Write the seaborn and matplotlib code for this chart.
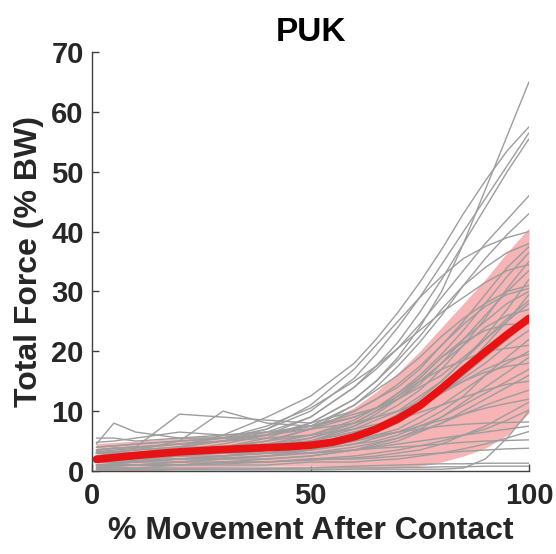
import matplotlib
matplotlib.use('Agg')
import pandas as pd
import matplotlib.pyplot as plt
import seaborn as sns

pct_grid = [1, 5, 10, 20, 30, 40, 50, 60, 65, 70, 75, 80, 85, 90, 95, 100]

# individual trials (total force, % BW), grouped by how high they end
high_trials = [
    [3.5, 3.8, 4.0, 4.5, 5.0, 6.0, 8.0, 12.0, 15.0, 19.0, 24.0, 30.0, 38.0, 47.0, 56.0, 65.0],
    [2.5, 2.8, 3.0, 4.0, 6.0, 9.0, 12.5, 18.0, 22.0, 26.5, 31.5, 37.0, 43.0, 48.5, 53.5, 57.5],
    [4.0, 4.2, 4.5, 5.0, 5.5, 7.0, 10.0, 15.5, 19.5, 24.0, 29.0, 34.5, 40.0, 45.5, 51.0, 56.5],
    [3.0, 3.2, 3.5, 4.0, 5.0, 6.5, 9.0, 14.0, 17.5, 21.5, 26.5, 32.0, 38.0, 44.0, 50.0, 55.5],
    [2.0, 2.5, 3.0, 3.5, 4.5, 6.0, 9.0, 14.0, 17.0, 20.5, 24.5, 29.0, 33.5, 38.0, 42.0, 46.0],
    [3.0, 3.0, 3.0, 3.5, 4.0, 5.0, 7.0, 11.0, 14.0, 17.5, 21.5, 26.0, 31.0, 35.5, 39.5, 43.0],
    [2.5, 2.8, 3.0, 4.0, 5.0, 7.0, 11.0, 17.0, 21.0, 25.0, 29.0, 32.5, 35.5, 37.5, 39.0, 40.0],
    [1.5, 1.8, 2.0, 3.0, 4.0, 5.5, 8.0, 12.0, 15.0, 18.5, 22.5, 27.0, 31.0, 34.0, 36.5, 38.0],
]
mid_trials = [
    [2.0, 2.2, 2.5, 3.0, 3.5, 4.5, 6.0, 8.5, 10.5, 13.0, 16.0, 19.5, 23.5, 28.0, 32.5, 36.5],
    [3.0, 3.2, 3.5, 4.0, 4.0, 4.5, 5.5, 7.5, 9.0, 11.0, 13.5, 17.0, 21.0, 25.5, 30.5, 35.0],
    [1.0, 1.2, 1.5, 2.0, 2.5, 3.5, 5.0, 7.5, 9.5, 12.0, 15.0, 18.0, 22.0, 26.0, 30.0, 33.5],
    [2.5, 2.8, 3.0, 3.0, 3.5, 4.0, 5.0, 7.0, 8.5, 10.0, 12.5, 15.0, 18.5, 22.5, 27.0, 32.0],
    [4.5, 8.0, 6.5, 5.5, 5.5, 6.0, 7.5, 11.0, 13.5, 16.0, 19.0, 22.5, 25.5, 28.0, 30.0, 31.0],
    [2.0, 2.0, 2.0, 2.5, 3.0, 3.5, 4.5, 6.0, 7.5, 9.0, 11.5, 14.0, 17.0, 21.0, 25.0, 29.5],
    [3.5, 3.8, 4.0, 9.5, 9.0, 8.5, 8.0, 10.0, 12.0, 14.0, 17.0, 21.0, 24.5, 27.5, 29.5, 30.5],
    [1.5, 1.8, 2.0, 2.0, 2.5, 3.0, 4.0, 6.0, 7.5, 9.5, 12.0, 15.0, 18.5, 22.0, 25.0, 28.0],
    [2.5, 2.8, 3.0, 3.5, 4.0, 5.0, 6.0, 8.0, 10.0, 12.0, 14.5, 18.0, 21.0, 24.0, 26.0, 27.0],
    [1.0, 1.0, 1.0, 1.5, 2.0, 2.5, 3.5, 5.0, 6.5, 8.0, 10.5, 13.0, 16.0, 19.0, 22.0, 25.0],
    [3.0, 3.2, 3.5, 5.0, 10.0, 8.0, 7.5, 9.0, 10.5, 13.0, 15.5, 19.0, 21.5, 23.5, 24.5, 24.5],
    [2.0, 2.2, 2.5, 3.0, 3.5, 4.0, 5.0, 6.5, 7.5, 9.0, 11.0, 13.0, 15.5, 18.0, 21.0, 23.5],
    [1.5, 1.5, 1.5, 2.0, 2.5, 3.0, 3.5, 4.5, 5.5, 6.5, 8.0, 10.0, 12.5, 16.0, 19.0, 22.0],
    [4.0, 4.2, 4.5, 5.0, 5.5, 6.0, 7.0, 9.0, 10.5, 12.5, 15.0, 17.0, 18.5, 20.0, 20.5, 21.0],
    [2.5, 2.5, 2.5, 3.0, 3.0, 3.5, 4.0, 5.0, 6.0, 7.0, 9.0, 11.0, 13.5, 16.0, 18.0, 20.0],
    [5.5, 5.5, 5.0, 5.5, 6.0, 6.5, 7.0, 8.0, 9.0, 10.0, 11.5, 13.0, 15.0, 17.0, 18.5, 19.5],
    [4.8, 5.0, 5.5, 6.5, 6.0, 6.5, 7.5, 9.5, 10.5, 12.0, 14.0, 16.0, 19.0, 22.0, 25.5, 28.5],
    [2.2, 2.5, 2.8, 3.2, 3.8, 5.0, 7.0, 10.0, 12.0, 14.5, 17.5, 21.0, 25.0, 29.5, 34.0, 37.5],
    [3.2, 3.5, 3.8, 4.5, 5.5, 7.5, 10.5, 15.0, 17.5, 20.5, 23.5, 26.5, 29.0, 31.5, 33.5, 34.5],
    [1.8, 2.0, 2.2, 2.8, 3.2, 4.0, 5.5, 8.0, 10.0, 12.5, 15.5, 19.0, 22.0, 25.0, 28.0, 30.0],
]
low_trials = [
    [1.0, 1.2, 1.5, 1.5, 2.0, 2.0, 2.5, 3.5, 4.5, 5.5, 7.0, 9.0, 11.5, 14.0, 16.5, 19.0],
    [3.0, 3.0, 3.0, 3.5, 4.0, 4.5, 5.0, 6.5, 7.5, 9.0, 11.0, 13.0, 15.0, 16.5, 17.5, 18.0],
    [2.0, 2.0, 2.0, 2.5, 3.0, 3.0, 3.5, 4.5, 5.0, 6.0, 7.5, 9.0, 11.0, 13.0, 15.0, 17.0],
    [0.5, 0.8, 1.0, 1.0, 1.5, 2.0, 2.5, 3.5, 4.2, 5.0, 6.5, 8.0, 10.0, 12.0, 14.0, 16.0],
    [3.5, 3.8, 4.0, 4.5, 5.0, 5.5, 6.0, 7.0, 7.8, 8.5, 9.8, 11.0, 12.3, 13.5, 14.5, 15.0],
    [1.5, 1.5, 1.5, 2.0, 2.0, 2.5, 3.0, 4.0, 4.7, 5.5, 6.7, 8.0, 9.5, 11.0, 12.3, 13.5],
    [2.5, 2.5, 2.5, 3.0, 3.0, 3.5, 4.0, 5.0, 5.7, 6.5, 7.5, 8.5, 9.5, 10.5, 11.3, 12.0],
    [1.0, 1.0, 1.0, 1.0, 1.5, 1.5, 2.0, 2.5, 3.0, 3.5, 4.2, 5.0, 6.0, 7.0, 8.5, 10.2],
    [3.0, 3.0, 3.0, 3.5, 3.5, 4.0, 4.5, 5.5, 6.0, 6.5, 7.0, 7.5, 7.8, 8.0, 8.1, 8.2],
    [0.5, 0.5, 0.5, 1.0, 1.0, 1.0, 1.5, 1.5, 1.8, 2.0, 2.5, 3.0, 3.7, 4.5, 5.5, 6.6],
    [2.0, 2.0, 2.0, 2.5, 2.5, 3.0, 3.0, 3.5, 3.8, 4.0, 4.2, 4.5, 4.8, 5.0, 5.1, 5.2],
    [1.0, 1.0, 1.0, 1.5, 1.5, 1.5, 2.0, 2.0, 2.2, 2.5, 2.8, 3.0, 3.3, 3.5, 3.7, 3.8],
    [0.5, 0.5, 0.5, 0.5, 0.5, 0.5, 0.5, 0.8, 0.9, 1.0, 1.1, 1.2, 1.2, 1.3, 1.3, 1.3],
    [0.3, 0.3, 0.3, 0.3, 0.3, 0.4, 0.5, 0.5, 0.5, 0.6, 0.6, 0.7, 0.7, 0.8, 0.8, 0.8],
    [0.2, 0.2, 0.2, 0.2, 0.2, 0.2, 0.2, 0.3, 0.3, 0.3, 0.3, 0.3, 0.5, 2.0, 5.5, 10.0],
    [1.5, 1.5, 1.8, 2.0, 2.2, 2.5, 3.0, 3.5, 4.0, 4.5, 5.0, 5.5, 6.0, 6.5, 7.0, 7.5],
    [0.8, 0.8, 1.0, 1.0, 1.2, 1.5, 1.8, 2.2, 2.5, 3.0, 3.5, 4.5, 6.0, 7.5, 9.5, 11.5],
]

# group mean and shaded band
mean_pct = [1, 10, 20, 30, 40, 45, 50, 55, 60, 65, 70, 75, 80, 85, 90, 95, 100]
mean_force = [1.95, 2.6, 3.2, 3.6, 3.9, 4.05, 4.3, 4.8, 5.7, 7.0, 8.7, 10.9, 13.8, 16.9, 19.9, 22.8, 25.5]
band_upper = [4.6, 5.0, 5.5, 6.0, 6.5, 6.9, 7.6, 8.8, 10.6, 13.2, 16.4, 20.0, 24.0, 28.0, 32.0, 36.5, 40.6]
band_lower = [-0.6, -0.2, 0.3, 0.6, 0.8, 0.8, 0.8, 0.7, 0.6, 0.5, 0.5, 0.8, 1.5, 2.5, 3.8, 6.0, 9.7]

x_ticks = [0, 50, 100]
y_ticks = [0, 10, 20, 30, 40, 50, 60, 70]


def main():
    sns.set_theme(style='ticks')
    plt.rcParams['font.family'] = ['Liberation Sans', 'DejaVu Sans']

    rows = []
    for i, curve in enumerate(high_trials + mid_trials + low_trials):
        for p, f in zip(pct_grid, curve):
            rows.append((i, p, f))
    df = pd.DataFrame(rows, columns=['trial', 'pct', 'force'])

    fig = plt.figure(figsize=(5.56, 5.54), dpi=100)
    ax = fig.add_axes([92 / 556, 1 - 471 / 554, 437 / 556, 419 / 554])

    ax.fill_between(mean_pct, band_lower, band_upper, color='#f6b4b4', lw=0, zorder=1)
    sns.lineplot(data=df, x='pct', y='force', units='trial', estimator=None,
                 color='#9d9d9d', lw=1.0, ax=ax, zorder=2, legend=False)
    sns.lineplot(x=mean_pct, y=mean_force, color='#e81212', lw=5.5, ax=ax, zorder=3)

    ax.set_xlim(0, 100)
    ax.set_ylim(0, 70)
    ax.set_xticks(x_ticks)
    ax.set_yticks(y_ticks)
    sns.despine(ax=ax)
    for s in ['left', 'bottom']:
        ax.spines[s].set_color('#404040')
        ax.spines[s].set_linewidth(1.0)
    ax.tick_params(axis='both', direction='in', length=5, width=1, color='#404040',
                   labelsize=21, labelcolor='#262626')
    ax.tick_params(axis='x', pad=8)
    ax.tick_params(axis='y', pad=6)
    for lbl in ax.get_xticklabels() + ax.get_yticklabels():
        lbl.set_fontweight('bold')

    ax.set_xlabel('% Movement After Contact', fontsize=23, fontweight='bold',
                  color='#262626', labelpad=4)
    ax.set_ylabel('Total Force (% BW)', fontsize=23, fontweight='bold',
                  color='#262626', labelpad=5)
    ax.set_title('PUK', fontsize=24, fontweight='bold', color='black', pad=8)

    fig.savefig('out.png', dpi=100)
    plt.close(fig)


if __name__ == '__main__':
    main()
